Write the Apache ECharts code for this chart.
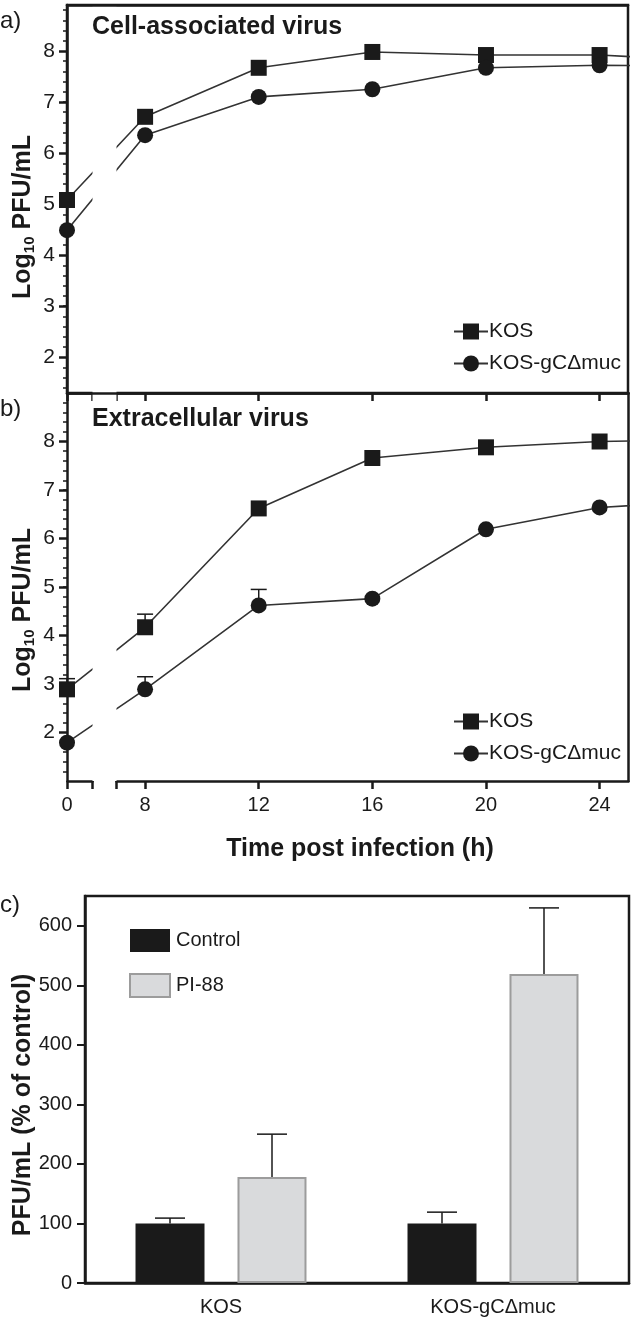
<!DOCTYPE html>
<html><head><meta charset="utf-8">
<script src="https://cdn.jsdelivr.net/npm/echarts@6/dist/echarts.min.js"></script>
<style>html,body{margin:0;padding:0;background:#fff}#c{width:633px;height:1321px}</style>
</head><body><div id="c"></div>
<script>
// ---- data ----
const hours = [0, 8, 12, 16, 20, 24, 28];
const cellKOS = [5.08, 6.71, 7.67, 7.98, 7.92, 7.92, 7.80];
const cellMuc = [4.49, 6.35, 7.10, 7.25, 7.67, 7.72, 7.70];
const extKOS  = [2.89, 4.17, 6.62, 7.66, 7.88, 8.00, 8.04];
const extMuc  = [1.79, 2.89, 4.62, 4.76, 6.19, 6.64, 6.78];
const extKOSUpper = [3.11, 4.44, null, null, null, null, null];
const extMucUpper = [null, 3.15, 4.95, null, null, null, null];
const xLabelValues = [0, 8, 12, 16, 20, 24];
const xTickValues = [0, 0.9, 7, 8, 12, 16, 20, 24];
const logTicks = [2, 3, 4, 5, 6, 7, 8];

const groups = ['KOS', 'KOS-gCΔmuc'];
const control = [100, 100];
const controlUpper = [109, 119];
const pi88 = [178, 519];
const pi88Upper = [250, 630];
const pctTicks = [0, 100, 200, 300, 400, 500, 600];

// ---- helpers ----
const INK = '#1a1a1a';
const FONT = 'Liberation Sans, Arial, Helvetica, sans-serif';
const BW = 69, BGAP = 33;

function pts(xs, ys) { return xs.map((x, i) => [x, ys[i]]); }
function errPts(xs, ys, up) {
  const out = [];
  xs.forEach((x, i) => { if (up[i] != null) out.push([x, ys[i], up[i]]); });
  return out;
}
function errRender(params, api) {
  const x = api.value(0), v = api.value(1), hi = api.value(2);
  const p0 = api.coord([x, v]), p1 = api.coord([x, hi]);
  const hw = 8;
  return { type: 'group', children: [
    { type: 'line', shape: { x1: p0[0], y1: p0[1], x2: p1[0], y2: p1[1] }, style: { stroke: INK, lineWidth: 1.5 } },
    { type: 'line', shape: { x1: p1[0] - hw, y1: p1[1], x2: p1[0] + hw, y2: p1[1] }, style: { stroke: INK, lineWidth: 1.5 } }
  ]};
}
function barErrRender(offset) {
  return function (params, api) {
    const c = api.value(0), v = api.value(1), hi = api.value(2);
    const p0 = api.coord([c, v]), p1 = api.coord([c, hi]);
    const x = p0[0] + offset, hw = 15;
    return { type: 'group', children: [
      { type: 'line', shape: { x1: x, y1: p0[1], x2: x, y2: p1[1] }, style: { stroke: INK, lineWidth: 1.5 } },
      { type: 'line', shape: { x1: x - hw, y1: p1[1], x2: x + hw, y2: p1[1] }, style: { stroke: INK, lineWidth: 1.5 } }
    ]};
  };
}

function timeAxis(gridIndex, withLabels) {
  return {
    type: 'value', gridIndex, min: 0, max: 25,
    breaks: [{ start: 0.9, end: 7, gap: '4.3%' }],
    breakArea: { show: true, itemStyle: { color: '#fff', borderColor: '#fff', borderWidth: 0, opacity: 1 }, zigzagAmplitude: 0, zigzagZ: 100 },
    axisLine: { show: true, onZero: false, lineStyle: { color: INK, width: 2.5 } },
    axisTick: { show: true, customValues: xTickValues, length: 8, lineStyle: { color: INK, width: 2.5 } },
    axisLabel: { show: withLabels, customValues: xLabelValues, fontSize: 20, color: INK, fontFamily: FONT, margin: 14 },
    splitLine: { show: false },
    name: withLabels ? 'Time post infection (h)' : '',
    nameLocation: 'middle', nameGap: 56,
    nameTextStyle: { fontSize: 25, fontWeight: 'bold', color: INK, fontFamily: FONT, padding: [0, 0, 0, 25] }
  };
}
function frameAxis(gridIndex, position) {
  return {
    type: 'value', gridIndex, min: 0, max: 25, position, z: 150,
    axisLine: { show: true, onZero: false, lineStyle: { color: INK, width: 2.5 } },
    axisTick: { show: false }, axisLabel: { show: false }, splitLine: { show: false }
  };
}
function logAxis(gridIndex, min, max) {
  return {
    type: 'value', gridIndex, min, max,
    axisLine: { show: true, lineStyle: { color: INK, width: 2.5 } },
    axisTick: { show: true, customValues: logTicks, length: 8, lineStyle: { color: INK, width: 2.5 } },
    minorTick: { show: true, splitNumber: 10, length: 4, lineStyle: { color: INK, width: 1.5 } },
    axisLabel: { customValues: logTicks, fontSize: 21, color: INK, fontFamily: FONT, margin: 12 },
    splitLine: { show: false }, minorSplitLine: { show: false }
  };
}
function lineSeries(name, xi, data, symbol) {
  return {
    type: 'line', name, xAxisIndex: xi, yAxisIndex: xi, data, clip: true,
    symbol, symbolSize: 16, showSymbol: true, z: 3,
    itemStyle: { color: INK }, lineStyle: { color: '#333', width: 1.6 }
  };
}
function errSeries(xi, data) {
  return { type: 'custom', name: 'err' + xi, xAxisIndex: xi, yAxisIndex: xi, data, renderItem: errRender, z: 2, silent: true };
}

const legendLine = (top) => ({
  data: ['KOS', 'KOS-gCΔmuc'], orient: 'vertical', left: 448, top, itemGap: 11,
  itemWidth: 34, itemHeight: 20, selectedMode: false,
  textStyle: { fontSize: 21, color: INK, fontFamily: FONT, padding: [0, 0, 0, -4] }
});

const option = {
  backgroundColor: '#fff',
  animation: false,
  textStyle: { fontFamily: FONT },
  grid: [
    { left: 67, top: 5, width: 561, height: 388, show: true, borderColor: INK, borderWidth: 2.5, backgroundColor: 'transparent' },
    { left: 67, top: 393, width: 561, height: 388, show: false },
    { left: 85, top: 896, width: 544, height: 387, show: true, borderColor: INK, borderWidth: 2.5, backgroundColor: 'transparent' }
  ],
  xAxis: [
    timeAxis(0, false),
    timeAxis(1, true),
    { type: 'category', gridIndex: 2, data: groups,
      axisLine: { lineStyle: { color: INK, width: 2.5 } }, axisTick: { show: false },
      axisLabel: { fontSize: 20, color: INK, fontFamily: FONT, margin: 14 } },
    frameAxis(0, 'top'),
    frameAxis(0, 'bottom')
  ],
  yAxis: [
    logAxis(0, 1.3, 8.9),
    logAxis(1, 1, 9),
    { type: 'value', gridIndex: 2, min: 0, max: 650,
      axisLine: { show: true, lineStyle: { color: INK, width: 2.5 } },
      axisTick: { show: true, customValues: pctTicks, length: 8, lineStyle: { color: INK, width: 2 } },
      axisLabel: { customValues: pctTicks, fontSize: 20, color: INK, fontFamily: FONT, margin: 13 },
      splitLine: { show: false } },
    { type: 'value', gridIndex: 1, min: 1, max: 9, position: 'right',
      axisLine: { show: true, lineStyle: { color: INK, width: 2.5 } },
      axisTick: { show: false }, axisLabel: { show: false }, splitLine: { show: false } }
  ],
  legend: [
    legendLine(316),
    legendLine(706),
    { data: ['Control', 'PI-88'], orient: 'vertical', left: 124, top: 924, itemGap: 21,
      itemWidth: 40, itemHeight: 23, icon: 'rect', selectedMode: false,
      textStyle: { fontSize: 20, color: INK, fontFamily: FONT, padding: [0, 0, 0, 1] } }
  ],
  series: [
    lineSeries('KOS', 0, pts(hours, cellKOS), 'rect'),
    lineSeries('KOS-gCΔmuc', 0, pts(hours, cellMuc), 'circle'),
    lineSeries('KOS', 1, pts(hours, extKOS), 'rect'),
    lineSeries('KOS-gCΔmuc', 1, pts(hours, extMuc), 'circle'),
    errSeries(1, errPts(hours, extKOS, extKOSUpper)),
    errSeries(1, errPts(hours, extMuc, extMucUpper)),
    { type: 'bar', name: 'Control', xAxisIndex: 2, yAxisIndex: 2, data: control,
      barWidth: BW, barGap: (BGAP / BW * 100).toFixed(1) + '%', z: 3,
      itemStyle: { color: INK } },
    { type: 'bar', name: 'PI-88', xAxisIndex: 2, yAxisIndex: 2, data: pi88,
      barWidth: BW, barGap: (BGAP / BW * 100).toFixed(1) + '%', z: 3,
      itemStyle: { color: '#d9dadc', borderColor: '#9c9c9c', borderWidth: 2 } },
    { type: 'custom', name: 'errC', xAxisIndex: 2, yAxisIndex: 2, z: 2, silent: true,
      data: groups.map((g, i) => [i, control[i], controlUpper[i]]), renderItem: barErrRender(-(BW + BGAP) / 2) },
    { type: 'custom', name: 'errP', xAxisIndex: 2, yAxisIndex: 2, z: 2, silent: true,
      data: groups.map((g, i) => [i, pi88[i], pi88Upper[i]]), renderItem: barErrRender((BW + BGAP) / 2) }
  ],
  graphic: [
    { type: 'text', z: 300, left: 0, top: 9, style: { text: 'a)', fontSize: 24, fill: INK, fontFamily: FONT } },
    { type: 'text', z: 300, left: 0, top: 397, style: { text: 'b)', fontSize: 24, fill: INK, fontFamily: FONT } },
    { type: 'text', z: 300, left: 0, top: 893, style: { text: 'c)', fontSize: 24, fill: INK, fontFamily: FONT } },
    { type: 'text', z: 300, left: 92, top: 15, style: { text: 'Cell-associated virus', fontSize: 25, fontWeight: 'bold', fill: INK, fontFamily: FONT } },
    { type: 'text', z: 300, left: 92, top: 407, style: { text: 'Extracellular virus', fontSize: 25, fontWeight: 'bold', fill: INK, fontFamily: FONT } },
    { type: 'text', z: 300, x: 23, y: 217, rotation: Math.PI / 2,
      style: { text: '{a|Log}{b|10}{a| PFU/mL}', align: 'center', verticalAlign: 'middle', fill: INK,
        rich: { a: { fontSize: 25, fontWeight: 'bold', fontFamily: FONT, fill: INK, lineHeight: 30 },
                b: { fontSize: 15, fontWeight: 'bold', fontFamily: FONT, fill: INK, lineHeight: 30, padding: [14, 0, 0, 0] } } } },
    { type: 'text', z: 300, x: 23, y: 610, rotation: Math.PI / 2,
      style: { text: '{a|Log}{b|10}{a| PFU/mL}', align: 'center', verticalAlign: 'middle', fill: INK,
        rich: { a: { fontSize: 25, fontWeight: 'bold', fontFamily: FONT, fill: INK, lineHeight: 30 },
                b: { fontSize: 15, fontWeight: 'bold', fontFamily: FONT, fill: INK, lineHeight: 30, padding: [14, 0, 0, 0] } } } },
    { type: 'text', z: 300, x: 23, y: 1105, rotation: Math.PI / 2,
      style: { text: 'PFU/mL (% of control)', align: 'center', verticalAlign: 'middle', fontSize: 25, fontWeight: 'bold', fill: INK, fontFamily: FONT } }
  ]
};
const chart = echarts.init(document.getElementById('c'), null, { renderer: 'canvas' });
chart.setOption(option);
</script></body></html>
